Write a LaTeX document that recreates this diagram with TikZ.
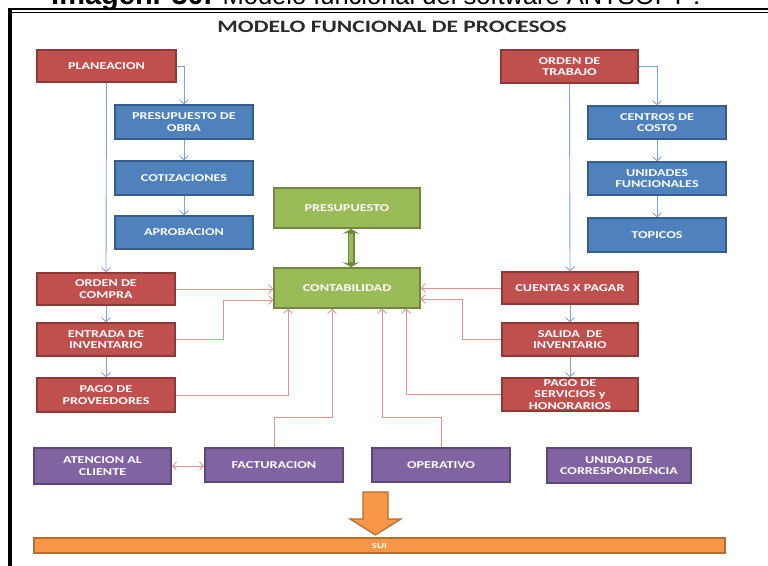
\documentclass[tikz,border=0pt]{standalone}
\usepackage{fontspec}
\setmainfont{Carlito}
\newfontfamily\bxf[FakeStretch=1.35]{Carlito}
\newfontfamily\capf{Liberation Sans}
\usetikzlibrary{arrows.meta}
\definecolor{redf}{HTML}{C0504D}\definecolor{redd}{HTML}{8C3A38}
\definecolor{bluef}{HTML}{4F81BD}\definecolor{blued}{HTML}{385D8A}
\definecolor{greenf}{HTML}{9BBB59}\definecolor{greend}{HTML}{71893F}
\definecolor{purf}{HTML}{8064A2}\definecolor{purd}{HTML}{5C4776}
\definecolor{oraf}{HTML}{F79646}\definecolor{orad}{HTML}{B66D31}
\definecolor{bline}{HTML}{7FA3D3}\definecolor{rline}{HTML}{DB9593}
\definecolor{titc}{HTML}{2B2B2B}
\tikzset{
  pbox/.style={draw, line width=1.6pt, text=white, align=center, inner sep=0pt,
    font=\bxf\bfseries\fontsize{10.5}{11.5}\selectfont, minimum width=137pt, minimum height=33pt},
  redbox/.style={pbox, fill=redf, draw=redd},
  bluebox/.style={pbox, fill=bluef, draw=blued},
  greenbox/.style={pbox, fill=greenf, draw=greend, minimum width=146pt, minimum height=40pt},
  purbox/.style={pbox, fill=purf, draw=purd},
  bconn/.style={draw=bline, line width=0.9pt, -{Straight Barb[length=4pt,width=9pt]}},
  rconn/.style={draw=rline, line width=0.9pt, -{Straight Barb[length=4pt,width=9pt]}},
}
\begin{document}
\begin{tikzpicture}[x=1pt,y=-1pt]
\useasboundingbox (0,0) rectangle (768,565);
% frame
\draw[line width=2pt] (8,9) -- (768,9);
\draw[line width=0.9pt] (11,12.8) -- (768,12.8);
\draw[line width=3.2pt] (10,8) -- (10,566);
% caption (cut by the page edge)
\node[anchor=base west, font=\capf\fontsize{29}{29}\selectfont, inner sep=0pt] (cap) at (51,4.5) {\textbf{Imagen. 30.} {\fontsize{25.5}{29}\selectfont Modelo funcional del software ANTSOFT .}};
% title
\node[font=\bxf\bfseries\fontsize{17.4}{19}\selectfont, text=titc] (title) at (392,27) {MODELO FUNCIONAL DE PROCESOS};
% left column
\node[redbox, minimum width=139pt, minimum height=32pt] (plan) at (106.5,66) {PLANEACION};
\node[bluebox, minimum width=138pt, minimum height=34pt] (pobra) at (184,122) {PRESUPUESTO DE\\OBRA};
\node[bluebox, minimum width=138pt, minimum height=34pt] (cotiz) at (184,178) {COTIZACIONES};
\node[bluebox, minimum width=138pt] (aprob) at (184,232.5) {APROBACION};
\node[redbox, minimum width=138pt, minimum height=32pt] (ocomp) at (106,289) {ORDEN DE\\COMPRA};
\node[redbox, minimum width=138pt] (entr) at (106,339.5) {ENTRADA DE\\INVENTARIO};
\node[redbox, minimum width=138pt, minimum height=34pt] (pprov) at (106,395) {PAGO DE\\PROVEEDORES};
% right column
\node[redbox, minimum width=137pt] (otrab) at (569.5,66.5) {ORDEN DE\\TRABAJO};
\node[bluebox, minimum width=138pt] (ccost) at (657,122.5) {CENTROS DE\\COSTO};
\node[bluebox, minimum width=138pt] (unid) at (657,178.5) {UNIDADES\\FUNCIONALES};
\node[bluebox, minimum width=138pt, minimum height=34pt] (topi) at (657,235) {TOPICOS};
\node[redbox, minimum width=136pt, minimum height=32pt] (cxp) at (570,288) {CUENTAS X PAGAR};
\node[redbox, minimum width=136pt] (sal) at (570,339.5) {SALIDA\ \ DE\\INVENTARIO};
\node[redbox, minimum width=136pt] (pserv) at (570,394.5) {PAGO DE\\SERVICIOS y\\HONORARIOS};
% center
\node[greenbox] (presu) at (347,208) {PRESUPUESTO};
\node[greenbox] (conta) at (347,288) {CONTABILIDAD};
% bottom
\node[purbox, minimum width=137pt, minimum height=36pt] (aten) at (102.5,466) {ATENCION AL\\CLIENTE};
\node[purbox, minimum width=138pt, minimum height=34pt] (fact) at (274,465) {FACTURACION};
\node[purbox, minimum width=138pt, minimum height=34pt] (oper) at (441,465) {OPERATIVO};
\node[purbox, minimum width=144pt, minimum height=35pt] (ucor) at (619,465.5) {UNIDAD DE\\CORRESPONDENCIA};
\node[pbox, fill=oraf, draw=orad, minimum width=691pt, minimum height=15pt, font=\bxf\bfseries\fontsize{8}{9}\selectfont] (sui) at (379.5,545.5) {SUI};
% orange arrow
\coordinate (arrtip) at (375.5,535);
\filldraw[fill=oraf, draw=orad, line width=1.2pt] (363,492) -- (388,492) -- (388,519) -- (401,519) -- (arrtip) -- (350,519) -- (363,519) -- cycle;
% green double arrow
\draw[draw=greend, line width=7pt, {Stealth[length=5pt,width=17pt]}-{Stealth[length=5pt,width=17pt]}] (presu.south -| 351,0) -- (conta.north -| 351,0);
\draw[draw=greenf, line width=3.5pt, shorten <=5pt, shorten >=5pt] (presu.south -| 351,0) -- (conta.north -| 351,0);
% blue connectors
\draw[bconn] (plan.east) -| (pobra.north);
\draw[bconn] (pobra) -- (cotiz);
\draw[bconn] (cotiz) -- (aprob);
\draw[bconn] (plan.south) -- (ocomp.north);
\draw[bconn] (ocomp) -- (entr);
\draw[bconn] (entr) -- (pprov);
\draw[bconn] (otrab.east) -| (ccost.north);
\draw[bconn] (ccost) -- (unid);
\draw[bconn] (unid) -- (topi);
\draw[bconn] (otrab.south) -- (cxp.north);
\draw[bconn] (cxp) -- (sal);
\draw[bconn] (sal) -- (pserv);
% red connectors
\draw[rconn] (ocomp.east) -- (conta.west |- ocomp.east);
\draw[rconn] (entr.east) -- (223,339.5) -- (223,300) -- (conta.west |- 0,300);
\draw[rconn] (pprov.east) -| (conta.south -| 288,0);
\draw[rconn] (fact.north) |- (332,417) -- (conta.south -| 332,0);
\draw[rconn] (oper.north) |- (382,417) -- (conta.south -| 382,0);
\draw[rconn] (pserv.west) -| (conta.south -| 406,0);
\draw[rconn] (cxp.west) -- (conta.east |- cxp.west);
\draw[rconn] (sal.west) -- (462,339.5) -- (462,299) -- (conta.east |- 0,299);
\draw[draw=rline, line width=0.9pt, {Straight Barb[length=4pt,width=8pt]}-{Straight Barb[length=4pt,width=8pt]}] (aten.east) -- (fact.west |- aten.east);
\end{tikzpicture}
\end{document}
